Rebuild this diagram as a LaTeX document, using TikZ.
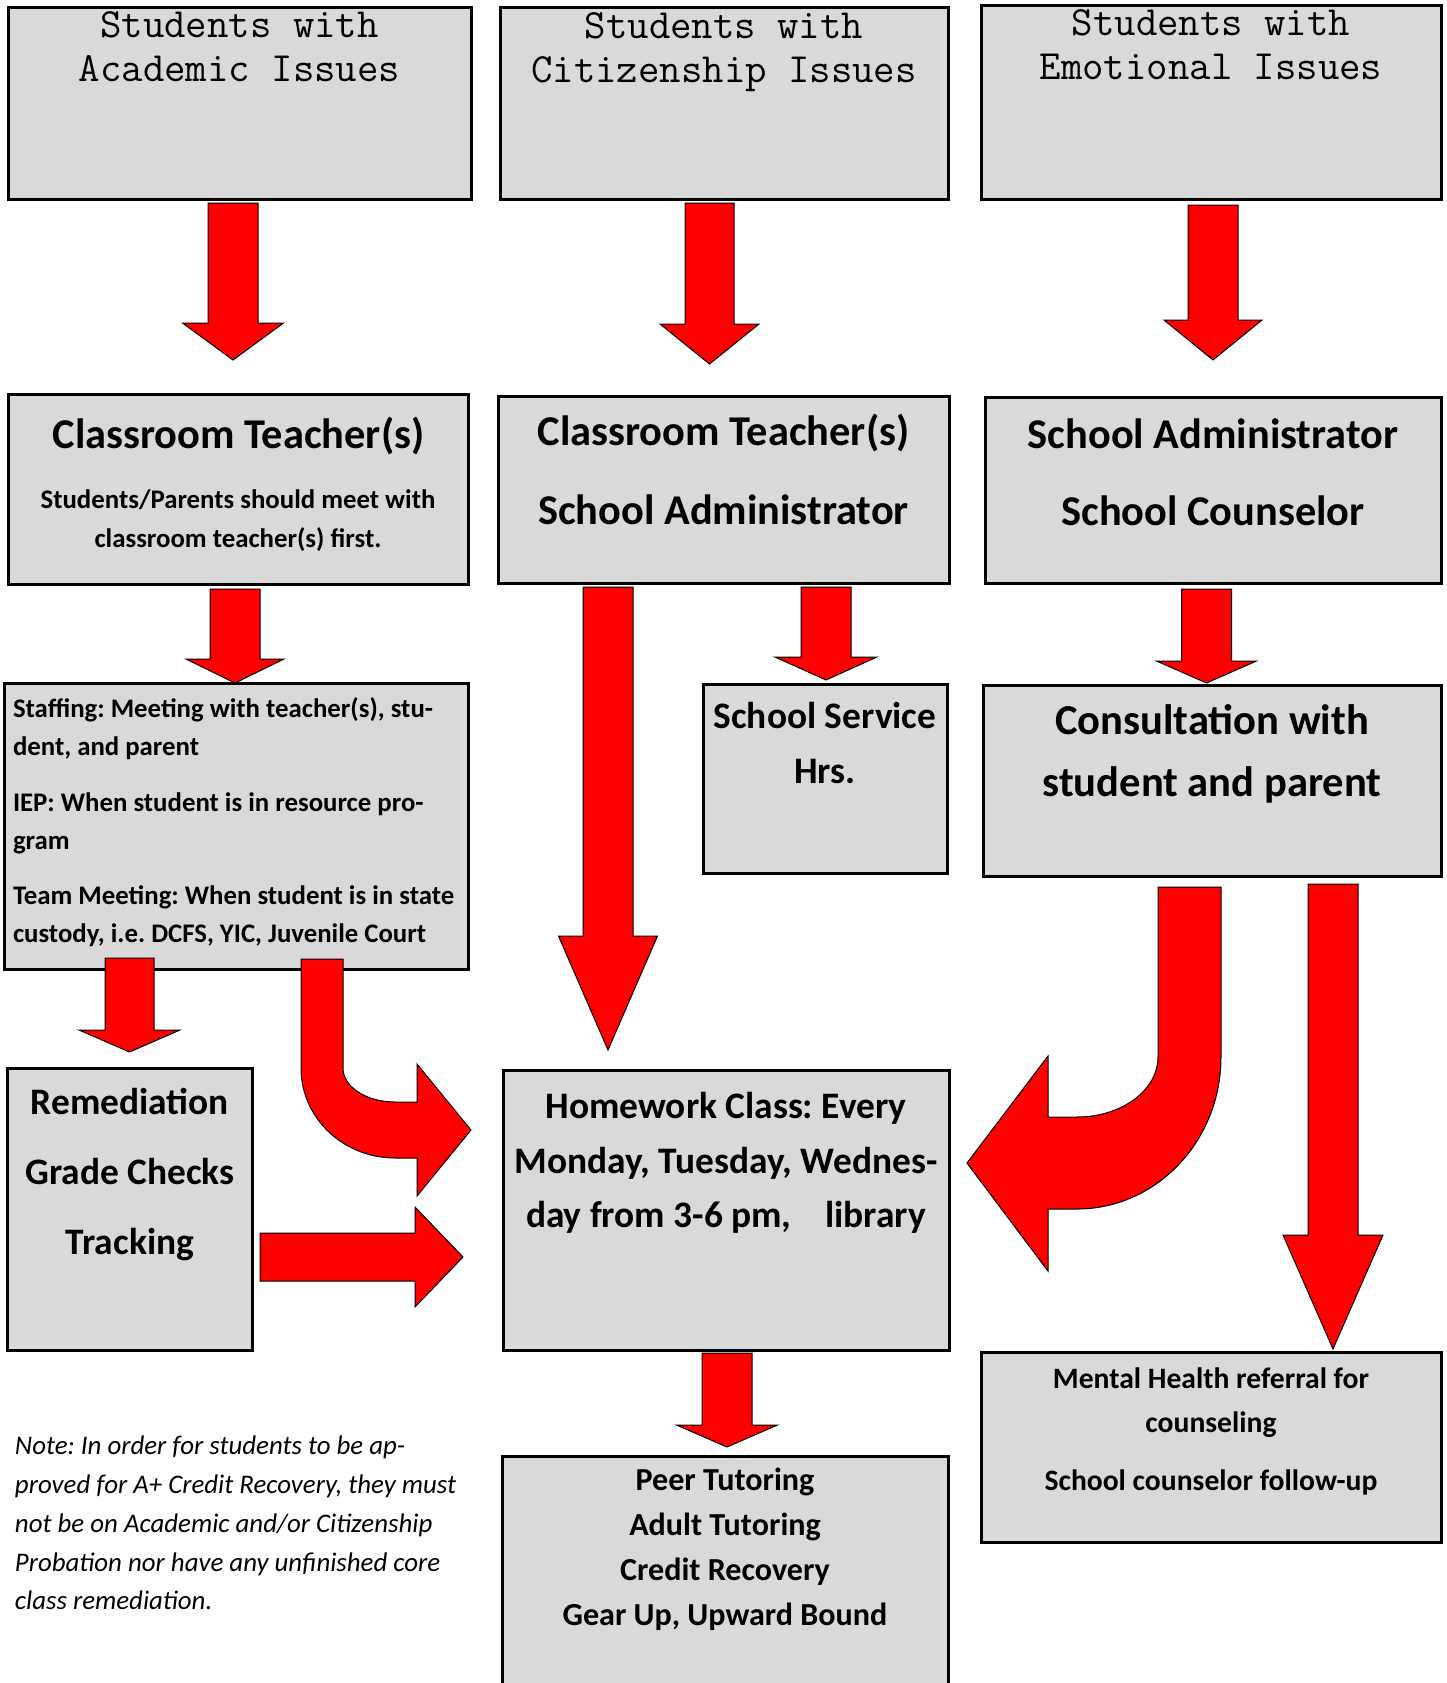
\documentclass[tikz,border=0pt]{standalone}
\usepackage{fontspec}
\setmainfont{Carlito}
\definecolor{boxgray}{RGB}{217,217,217}
\definecolor{arrred}{RGB}{255,0,0}
\newcommand\dnarrow[6]{\draw[blockarrow] ({#1-#5},#2) -- ({#1+#5},#2) -- ({#1+#5},#3) -- ({#1+#6},#3) -- (#1,#4) -- ({#1-#6},#3) -- ({#1-#5},#3) -- cycle;}
\newcommand\boxnode[5]{\node[boxst, minimum width={(#4-#2)*0.5pt}, minimum height={(#5-#3)*0.5pt}, anchor=north west] (#1) at (#2,#3) {};}
\frenchspacing
\begin{document}
\begin{tikzpicture}[x=0.5pt,y=-0.5pt,
  boxst/.style={draw=black, fill=boxgray, line width=1.5pt, inner sep=0pt, outer sep=0pt},
  blockarrow/.style={draw=black, fill=arrred, line width=0.5pt, line join=miter},
  txt/.style={inner sep=0pt, outer sep=0pt, anchor=base},
  ltxt/.style={inner sep=0pt, outer sep=0pt, anchor=base west},
  mono/.style={txt, font=\ttfamily\fontsize{20.8}{24}\selectfont},
  hdr/.style={txt, font=\bfseries\fontsize{21.2}{25}\selectfont},
  cons/.style={txt, font=\bfseries\fontsize{21.3}{25}\selectfont},
  mid/.style={txt, font=\bfseries\fontsize{18.7}{22}\selectfont},
  small/.style={font=\bfseries\fontsize{13.4}{16}\selectfont},
  mh/.style={txt, font=\bfseries\fontsize{14.8}{18}\selectfont},
  peer/.style={txt, font=\bfseries\fontsize{16.05}{19}\selectfont},
  note/.style={ltxt, font=\itshape\fontsize{13.43}{16}\selectfont}]
\useasboundingbox (0,0) rectangle (1447,1683);
\clip (0,0) rectangle (1447,1683);
\fill[white] (0,0) rectangle (1447,1683);

% boxes
\boxnode{A1}{8}{7}{471}{199}
\boxnode{A2}{500}{7}{948}{199}
\boxnode{A3}{981}{5}{1441}{199}
\boxnode{B1}{8}{394}{468}{584}
\boxnode{B2}{498}{396}{949}{583}
\boxnode{B3}{985}{397}{1441}{583}
\boxnode{C1}{4}{683}{468}{969}
\boxnode{C2}{703}{684}{947}{873}
\boxnode{C3}{983}{685}{1441}{876}
\boxnode{D1}{7}{1068}{252}{1350}
\boxnode{D2}{503}{1070}{949}{1350}
\boxnode{D3}{981}{1352}{1441}{1542}
\boxnode{E2}{502}{1456}{948}{1720}

% straight down arrows
\dnarrow{233}{203}{323}{360}{25}{50.5}
\dnarrow{709.5}{203}{324}{364}{24.5}{49.5}
\dnarrow{1213}{205}{320}{360}{25}{49}
\dnarrow{235}{589}{659}{683}{25}{49}
\dnarrow{608}{587}{936}{1050}{25}{49.5}
\dnarrow{826}{587}{657}{680}{25}{51}
\dnarrow{1206.5}{589}{661}{683}{25}{50}
\dnarrow{129.5}{958}{1030}{1052}{24.5}{50.5}
\dnarrow{1333}{884}{1235}{1349}{25}{50}
\dnarrow{727}{1353}{1425}{1447}{25}{50.5}

% right arrow remediation -> homework
\draw[blockarrow] (260,1233) -- (415,1233) -- (415,1207) -- (463,1257) -- (415,1307) -- (415,1281) -- (260,1281) -- cycle;

% bent arrow staffing -> homework
\draw[blockarrow] (301,959) -- (343,959) -- (343,1068)
  .. controls (343,1086.8) and (366.3,1102) .. (395,1102)
  -- (417,1102) -- (417,1064) -- (471,1130) -- (417,1196) -- (417,1158) -- (395,1158)
  .. controls (343.1,1158) and (301,1117.7) .. (301,1068) -- cycle;

% bent arrow consultation -> homework
\draw[blockarrow] (1158,887) -- (1221,887) -- (1221,1057)
  .. controls (1221,1140.9) and (1156.5,1209) .. (1077,1209)
  -- (1048,1209) -- (1048,1271) -- (967,1163) -- (1048,1056) -- (1048,1117) -- (1077,1117)
  .. controls (1121.7,1117) and (1158,1090.1) .. (1158,1057) -- cycle;

% texts
\node[mono] (a1t1) at (239.5,37) {Students with};
\node[mono] (a1t2) at (239.5,81) {Academic Issues};
\node[mono] (a2t1) at (724,38) {Students with};
\node[mono] (a2t2) at (724,82) {Citizenship Issues};
\node[mono] (a3t1) at (1211,35) {Students with};
\node[mono] (a3t2) at (1211,79) {Emotional Issues};

\node[hdr] (b1t1) at (238.5,448) {Classroom Teacher(s)};
\node[txt,small] (b1t2) at (238,508) {Students/Parents should meet with};
\node[txt,small] (b1t3) at (238,547) {classroom teacher(s) first.};
\node[hdr] (b2t1) at (723.5,445) {Classroom Teacher(s)};
\node[hdr] (b2t2) at (723.5,524) {School Administrator};
\node[hdr] (b3t1) at (1213,448) {School Administrator};
\node[hdr] (b3t2) at (1213,525) {School Counselor};

\node[ltxt,small] (c1t1) at (13,717) {Staffing: Meeting with teacher(s), stu-};
\node[ltxt,small] (c1t2) at (13,755) {dent, and parent};
\node[ltxt,small] (c1t3) at (13,811) {IEP: When student is in resource pro-};
\node[ltxt,small] (c1t4) at (13,849) {gram};
\node[ltxt,small] (c1t5) at (13,904) {Team Meeting: When student is in state};
\node[ltxt,small] (c1t6) at (13,942) {custody, i.e. DCFS, YIC, Juvenile Court};

\node[mid] (c2t1) at (825,728) {School Service};
\node[mid] (c2t2) at (825,783) {Hrs.};
\node[cons] (c3t1) at (1212,734) {Consultation with};
\node[cons] (c3t2) at (1212,796) {student and parent};

\node[mid] (d1t1) at (130,1114) {Remediation};
\node[mid] (d1t2) at (130,1184) {Grade Checks};
\node[mid] (d1t3) at (130,1254) {Tracking};
\node[mid] (d2t1) at (726,1118) {Homework Class: Every};
\node[mid] (d2t2) at (726,1173) {Monday, Tuesday, Wednes-};
\node[mid] (d2t3) at (726,1227) {day from 3-6 pm,\ \ \ \ library};
\node[mh] (d3t1) at (1211,1388) {Mental Health referral for};
\node[mh] (d3t2) at (1211,1432) {counseling};
\node[mh] (d3t3) at (1211,1490) {School counselor follow-up};

\node[peer] (e2t1) at (725,1490) {Peer Tutoring};
\node[peer] (e2t2) at (725,1535) {Adult Tutoring};
\node[peer] (e2t3) at (725,1580) {Credit Recovery};
\node[peer] (e2t4) at (725,1625) {Gear Up, Upward Bound};

\node[note] (n1) at (15,1454) {Note: In order for students to be ap-};
\node[note] (n2) at (15,1493) {proved for A+ Credit Recovery, they must};
\node[note] (n3) at (15,1532) {not be on Academic and/or Citizenship};
\node[note] (n4) at (15,1571) {Probation nor have any unfinished core};
\node[note] (n5) at (15,1609) {class remediation.};
\end{tikzpicture}
\end{document}
